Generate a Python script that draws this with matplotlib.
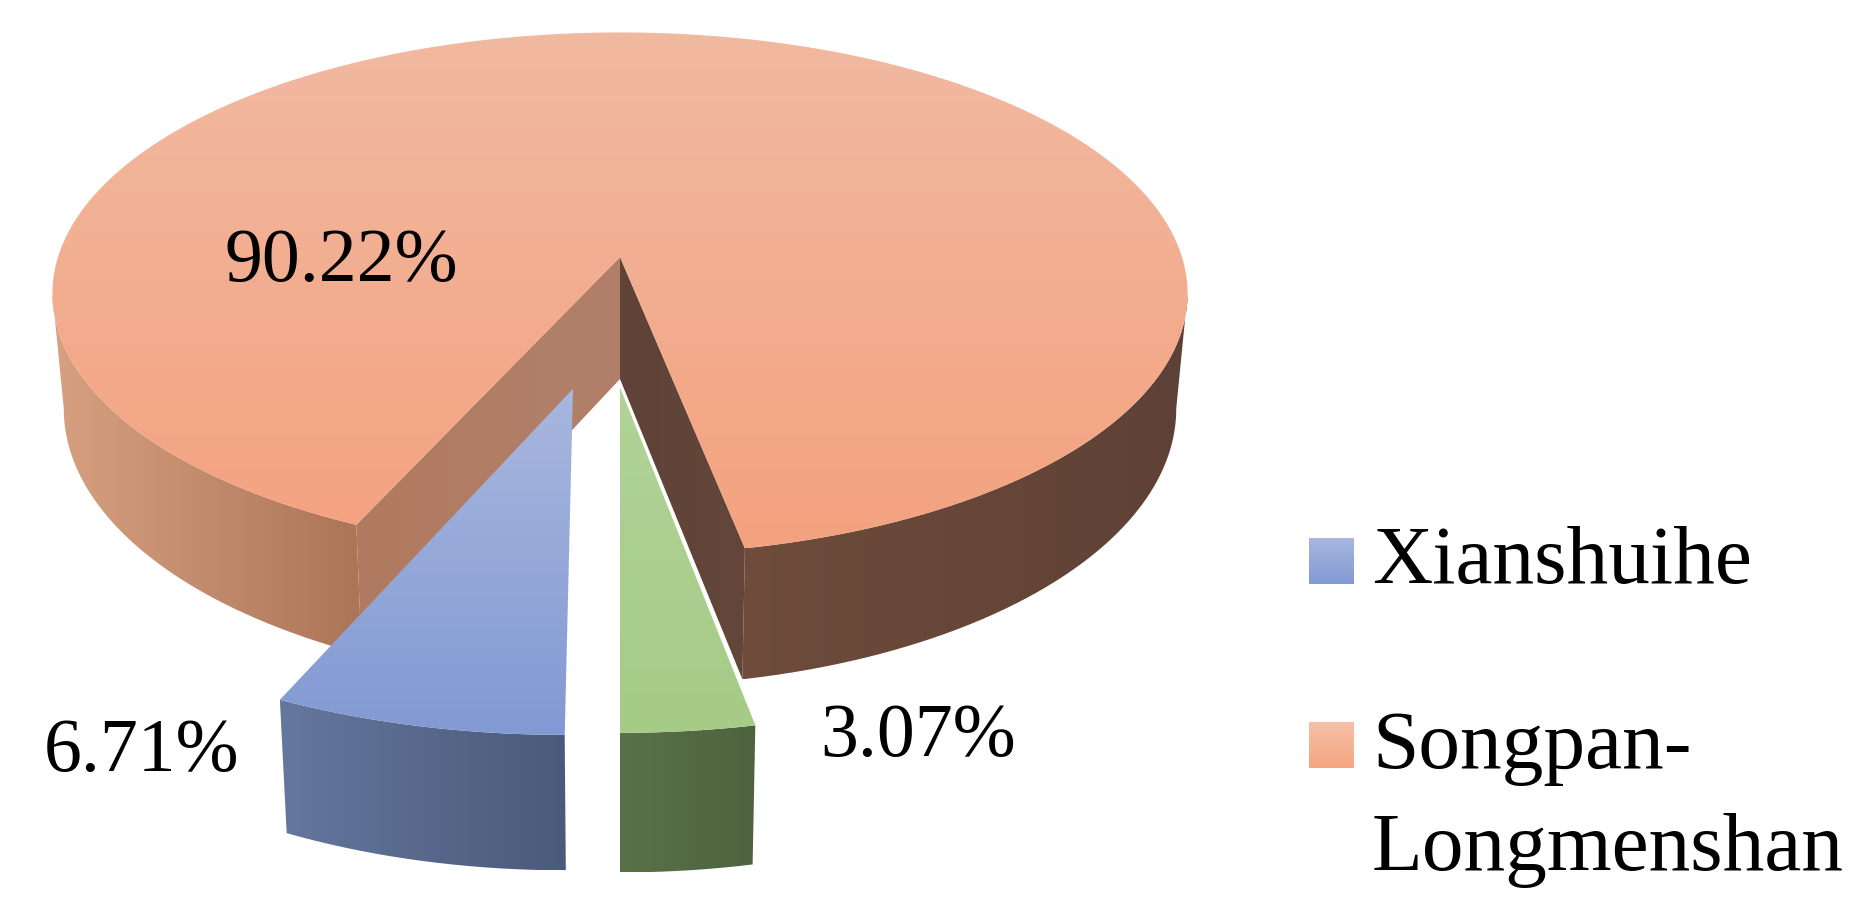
import numpy as np
import matplotlib
matplotlib.use('Agg')
import matplotlib.pyplot as plt
from matplotlib.path import Path
from matplotlib.patches import PathPatch
from matplotlib.colors import to_rgb

# data, clockwise from the front of the pie
values = [3.07, 90.22, 6.71]
value_labels = ['3.07%', '90.22%', '6.71%']
legend_names = ['Xianshuihe', 'Songpan-', 'Longmenshan']

# view of the tilted disc, in pixels
cx, cy = 620, 257
rx, ry = 562, 256
persp = 0.14
depth = 113
shrink = 0.98

plt.rcParams['font.family'] = ['Liberation Serif', 'DejaVu Serif']
fig = plt.figure(figsize=(18.74, 9.16), dpi=100)
ax = fig.add_axes([0, 0, 1, 1])


def project(u, v, bottom=False, d=1.0):
    s = 1 / (1 + persp * v)
    x = u * s * rx
    y = -v * s * ry
    if bottom:
        return cx + x * shrink, cy + y + depth * d * s
    return cx + x, cy + y


def rim(a0, a1, off=(0, 0), bottom=False, d=1.0):
    t = np.radians(np.linspace(a0, a1, 200))
    return project(np.sin(t) + off[0], -np.cos(t) + off[1], bottom, d)


def fill(xs, ys, c0, c1, horizontal=False):
    # gradient image clipped to the polygon
    n = 64
    f = np.linspace(0, 1, n)[:, None]
    grad = (1 - f) * np.array(to_rgb(c0)) + f * np.array(to_rgb(c1))
    grad = grad[None, :, :] if horizontal else grad[:, None, :]
    im = ax.imshow(grad, extent=(min(xs), max(xs), max(ys), min(ys)), aspect='auto',
                   interpolation='bilinear', zorder=2)
    pts = np.column_stack([xs, ys])
    patch = PathPatch(Path(np.vstack([pts, pts[0]])), fc='none', ec='none', transform=ax.transData)
    ax.add_patch(patch)
    im.set_clip_path(patch)


def side(a0, a1, off, c0, c1, d=1.0):
    xt, yt = rim(a0, a1, off)
    xb, yb = rim(a0, a1, off, True, d)
    fill(np.r_[xt, xb[::-1]], np.r_[yt, yb[::-1]], c0, c1, True)


def inner(a, off, c0, c1):
    t = np.radians(a)
    x0, y0 = project(off[0], off[1])
    x1, y1 = project(np.sin(t) + off[0], -np.cos(t) + off[1])
    x2, y2 = project(np.sin(t) + off[0], -np.cos(t) + off[1], True)
    x3, y3 = project(off[0], off[1], True, 1.08)
    fill([x0, x1, x2, x3], [y0, y1, y2, y3], c0, c1, True)


def top(a0, a1, off, c0, c1):
    xs, ys = rim(a0, a1, off)
    x0, y0 = project(off[0], off[1])
    fill(np.r_[x0, xs], np.r_[y0, ys], c0, c1)


edges = np.cumsum([0] + values) / 100 * 360
none = (0, 0)

# big slice, outer wall stops at the silhouette tips
big0, big1 = edges[1], edges[2]
side(big0, 82, none, '#6F4C3B', '#5E4136')
side(278, big1, none, '#D6A081', '#AD7558')
inner(big1, none, '#B07A60', '#B2806A')
inner(big0, none, '#5F4337', '#64463A')
top(big0, big1, none, '#F1B9A1', '#F4A27F')

# blue slice, pulled out
blue_off = (-0.078, -0.48)
side(edges[2], edges[3], blue_off, '#65779D', '#4A5A7C', 0.95)
top(edges[2], edges[3], blue_off, '#A8B7DE', '#8299D3')

# green slice, pulled out
green_off = (0.0, -0.475)
side(edges[0], edges[1], green_off, '#5A7248', '#4E623F', 0.98)
top(edges[0], edges[1], green_off, '#B1D399', '#A6CB86')

# value labels
fs = 54.5
ax.text(225, 281, value_labels[1], fontsize=fs, color='black', zorder=5)
ax.text(44, 771, value_labels[2], fontsize=fs, color='black', zorder=5)
ax.text(820, 756, value_labels[0], fontsize=fs, color='black', zorder=5)

# legend
leg_y = [(538, 584), (722, 768)]
leg_cols = [('#A8B7DE', '#8299D3'), ('#F6C0A8', '#F6A582')]
for (y0, y1), (c0, c1) in zip(leg_y, leg_cols):
    fill([1309, 1354, 1354, 1309], [y0, y0, y1, y1], c0, c1)
leg_base = [583, 768, 870]
for name, base in zip(legend_names, leg_base):
    ax.text(1372, base, name, fontsize=60, color='black', va='baseline', zorder=5)

ax.set_xlim(0, 1874)
ax.set_ylim(916, 0)
ax.axis('off')
fig.savefig('out.png', dpi=100, facecolor='white')
